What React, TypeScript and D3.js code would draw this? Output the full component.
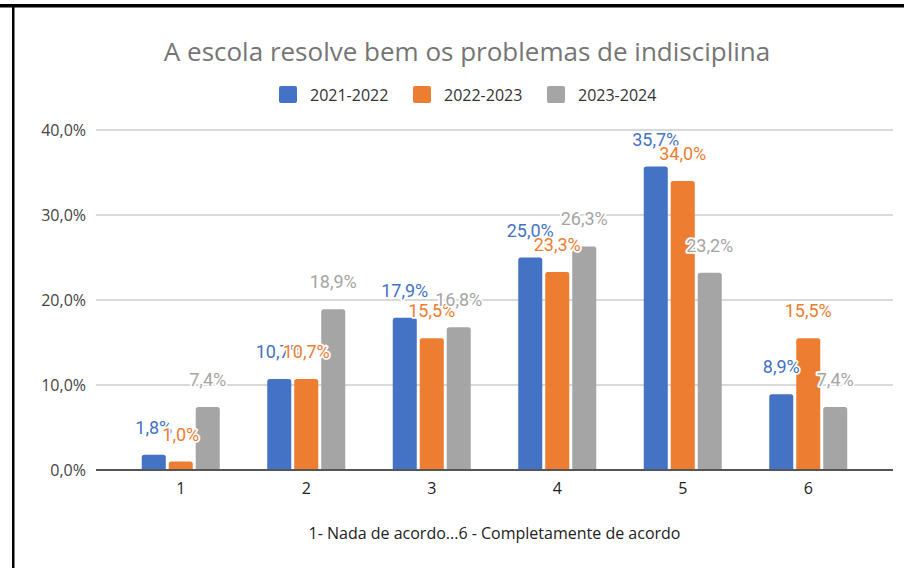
import React from "react";
import * as d3 from "d3";

const categories = ["1", "2", "3", "4", "5", "6"];
const seriesNames = ["2021-2022", "2022-2023", "2023-2024"];
const s2021 = [1.8, 10.7, 17.9, 25.0, 35.7, 8.9];
const s2022 = [1.0, 10.7, 15.5, 23.3, 34.0, 15.5];
const s2023 = [7.4, 18.9, 16.8, 26.3, 23.2, 7.4];
const yTicks = [0, 10, 20, 30, 40];
const colors = ["#4472C4", "#ED7D31", "#A5A5A5"];
const title = "A escola resolve bem os problemas de indisciplina";
const xTitle = "1- Nada de acordo...6 - Completamente de acordo";

const W = 904;
const H = 568;

function fmt(v: number) {
  return v.toFixed(1).replace(".", ",") + "%";
}

function topRounded(x: number, y: number, w: number, h: number, r: number) {
  const rr = Math.min(r, h, w / 2);
  const p = d3.path();
  p.moveTo(x, y + h);
  p.lineTo(x, y + rr);
  p.quadraticCurveTo(x, y, x + rr, y);
  p.lineTo(x + w - rr, y);
  p.quadraticCurveTo(x + w, y, x + w, y + rr);
  p.lineTo(x + w, y + h);
  p.closePath();
  return p.toString();
}

export default function App() {
  const series = [s2021, s2022, s2023];
  const x = d3.scaleBand<string>().domain(categories).range([118, 871]).padding(0);
  const inner = d3
    .scaleBand<number>()
    .domain([0, 1, 2])
    .range([0, 78])
    .paddingInner(0.11)
    .paddingOuter(0);
  const y = d3.scaleLinear().domain([0, 40]).range([470, 130]);
  const gridX0 = 96;
  const gridX1 = 893;

  const legendX = [279, 413, 547];

  return (
    <svg
      width={W}
      height={H}
      style={{ position: "absolute", left: 0, top: 0, display: "block", background: "#fff" }}
    >
      <rect x={0} y={0} width={W} height={H} fill="#fff" />
      {/* borders */}
      <rect x={0} y={4} width={W} height={3.5} fill="#000" />
      <rect x={12} y={4} width={2.5} height={H - 4} fill="#000" />

      <text
        x={467}
        y={61}
        textAnchor="middle"
        fontFamily="'Open Sans', sans-serif"
        fontSize={26}
        fill="#757575"
      >
        {title}
      </text>

      {/* legend */}
      {seriesNames.map((n, i) => (
        <g key={n}>
          <rect x={legendX[i]} y={86} width={18} height={17} rx={2} fill={colors[i]} />
          <text
            x={legendX[i] + 31}
            y={101}
            fontFamily="'Open Sans', sans-serif"
            fontSize={16}
            fill="#333"
          >
            {n}
          </text>
        </g>
      ))}

      {/* grid */}
      {yTicks.map((t) => (
        <g key={t}>
          {t !== 0 && (
            <line x1={gridX0} x2={gridX1} y1={y(t)} y2={y(t)} stroke="#cccccc" strokeWidth={1.3} />
          )}
          <text
            x={86}
            y={y(t) + 5.5}
            textAnchor="end"
            fontFamily="'Open Sans', sans-serif"
            fontSize={16}
            fill="#444"
          >
            {fmt(t)}
          </text>
        </g>
      ))}

      {/* bars */}
      {series.map((vals, si) =>
        vals.map((v, ci) => {
          const bx = (x(categories[ci]) as number) + x.bandwidth() / 2 - 39 + (inner(si) as number);
          const by = y(v);
          return (
            <path
              key={`b${si}-${ci}`}
              d={topRounded(bx, by, inner.bandwidth(), y(0) - by, 2.5)}
              fill={colors[si]}
            />
          );
        })
      )}

      {/* baseline */}
      <line x1={gridX0} x2={gridX1} y1={y(0)} y2={y(0)} stroke="#555" strokeWidth={2} />

      {/* x ticks */}
      {categories.map((c) => (
        <text
          key={c}
          x={(x(c) as number) + x.bandwidth() / 2}
          y={494}
          textAnchor="middle"
          fontFamily="'Open Sans', sans-serif"
          fontSize={16}
          fill="#222"
        >
          {c}
        </text>
      ))}

      {/* labels */}
      {series.map((vals, si) =>
        vals.map((v, ci) => {
          const cx =
            (x(categories[ci]) as number) +
            x.bandwidth() / 2 -
            39 +
            (inner(si) as number) +
            inner.bandwidth() / 2;
          return (
            <text
              key={`l${si}-${ci}`}
              x={cx}
              y={y(v) - 21}
              textAnchor="middle"
              fontFamily="Roboto, sans-serif"
              fontSize={18}
              fill={colors[si] === "#A5A5A5" ? "#A5A5A5" : colors[si]}
              stroke="#fff"
              strokeWidth={3.5}
              strokeLinejoin="round"
              paintOrder="stroke"
            >
              {fmt(v)}
            </text>
          );
        })
      )}

      <text
        x={494.5}
        y={539}
        textAnchor="middle"
        fontFamily="'Open Sans', sans-serif"
        fontSize={16}
        fill="#222"
      >
        {xTitle}
      </text>
    </svg>
  );
}
